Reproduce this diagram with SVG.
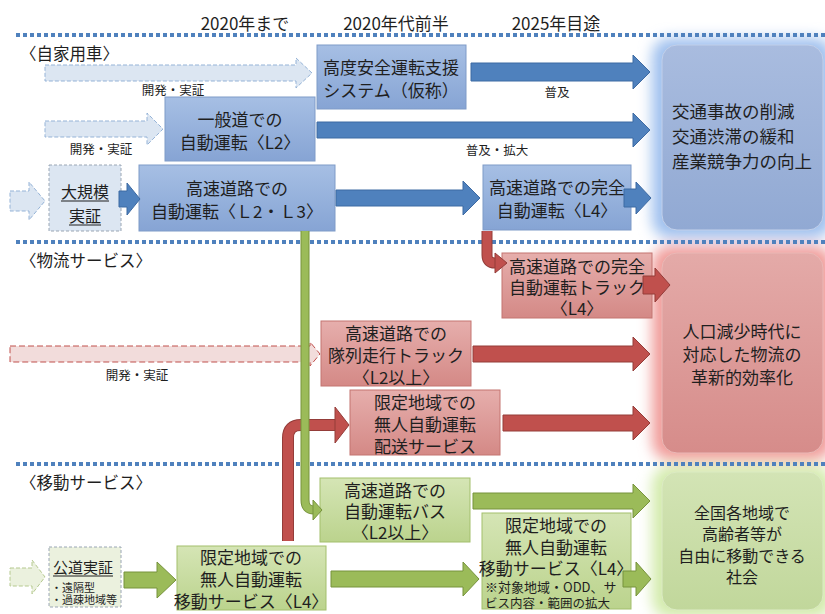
<svg xmlns="http://www.w3.org/2000/svg" width="825" height="614" viewBox="0 0 825 614">
<style>
.t{font-family:"Noto Sans CJK JP","Noto Sans",sans-serif;fill:#1f1f1f;dominant-baseline:central;text-anchor:middle;font-size:17px}
.l{text-anchor:start}
.s{font-size:12.5px}
.h{font-size:17px}
.sec{font-size:16.5px;text-anchor:start}
.nb{fill:url(#gb);stroke:#7f9bc8;stroke-width:1}
.nr{fill:url(#gr);stroke:#c47470;stroke-width:1}
.ng{fill:url(#gg);stroke:#a3bf6c;stroke-width:1}
.ab{fill:#4f81bd;stroke:#3d6aa3;stroke-width:1}
.ar{fill:#c0504d;stroke:#943c39;stroke-width:1}
.ag{fill:#9bbb59;stroke:#77933c;stroke-width:1}
.db{fill:#dce6f2;stroke:#95b3d7;stroke-width:1;stroke-dasharray:4 2}
.dr{fill:#f2dcdb;stroke:#c0504d;stroke-width:1;stroke-dasharray:6 3}
.dg{fill:#ebf1de;stroke:#b5c98f;stroke-width:1;stroke-dasharray:4 2}
.dbox{stroke:#9aa6b4;stroke-width:1;stroke-dasharray:3 2}
.sep{stroke:#4f81bd;stroke-width:4;stroke-dasharray:4 3;fill:none}
.ul{stroke:#1f1f1f;stroke-width:1}
</style>
<defs>
<linearGradient id="gb" x1="0" y1="0" x2="0" y2="1"><stop offset="0" stop-color="#a6bfe4"/><stop offset="1" stop-color="#86a4d4"/></linearGradient>
<linearGradient id="gr" x1="0" y1="0" x2="0" y2="1"><stop offset="0" stop-color="#e6aeac"/><stop offset="1" stop-color="#d48986"/></linearGradient>
<linearGradient id="gg" x1="0" y1="0" x2="0" y2="1"><stop offset="0" stop-color="#d5e5b5"/><stop offset="1" stop-color="#bbd38d"/></linearGradient>
<linearGradient id="rb" x1="0" y1="0" x2="0" y2="1"><stop offset="0" stop-color="#a9bcdf"/><stop offset="1" stop-color="#91a9d3"/></linearGradient>
<linearGradient id="rr" x1="0" y1="0" x2="0" y2="1"><stop offset="0" stop-color="#e4aaa8"/><stop offset="1" stop-color="#d68c8a"/></linearGradient>
<linearGradient id="rg" x1="0" y1="0" x2="0" y2="1"><stop offset="0" stop-color="#d3e4b5"/><stop offset="1" stop-color="#c1d79b"/></linearGradient>
<filter id="blur" x="-20%" y="-20%" width="140%" height="140%"><feGaussianBlur stdDeviation="7"/></filter>
</defs>
<rect width="825" height="614" fill="#ffffff"/>
<g id="glows" filter="url(#blur)">
<rect x="652" y="38" width="180" height="200" rx="18" fill="#9fc0ee"/>
<rect x="652" y="246" width="180" height="214" rx="18" fill="#f09c9a"/>
<rect x="652" y="466" width="180" height="152" rx="18" fill="#d3ebac"/>
</g>
<g id="separators">
<line class="sep" x1="16" y1="35" x2="825" y2="35"/>
<line class="sep" x1="16" y1="242" x2="825" y2="242"/>
<line class="sep" x1="16" y1="464" x2="825" y2="464"/>
</g>
<g id="headers">
<text class="t h" x="245" y="22">2020年まで</text>
<text class="t h" x="396" y="22">2020年代前半</text>
<text class="t h" x="556" y="22">2025年目途</text>
<text class="t sec" x="20" y="53">〈自家用車〉</text>
<text class="t sec" x="20" y="260">〈物流サービス〉</text>
<text class="t sec" x="20" y="482">〈移動サービス〉</text>
<text class="t s" x="101" y="148">開発・実証</text>
<text class="t s" x="557" y="91">普及</text>
<text class="t s" x="497" y="149">普及・拡大</text>
<text class="t s" x="137" y="374">開発・実証</text>
</g>
<g id="goal-blue">
<rect x="662" y="45" width="161" height="185" rx="15" fill="url(#rb)" stroke="#c2d0ea"/>
<text class="t l" x="672" y="110" style="font-size:17.5px">交通事故の削減</text>
<text class="t l" x="672" y="135" style="font-size:17.5px">交通渋滞の緩和</text>
<text class="t l" x="672" y="160" style="font-size:17.5px">産業競争力の向上</text>
</g>
<g id="goal-red">
<rect x="662" y="253" width="161" height="200" rx="15" fill="url(#rr)" stroke="#eab8b6"/>
<text class="t" x="742" y="330">人口減少時代に</text>
<text class="t" x="742" y="353">対応した物流の</text>
<text class="t" x="742" y="376">革新的効率化</text>
</g>
<g id="goal-green">
<rect x="662" y="472" width="161" height="138" rx="15" fill="url(#rg)" stroke="#dcebc4"/>
<text class="t" x="742" y="512" style="font-size:16px">全国各地域で</text>
<text class="t" x="742" y="533" style="font-size:16px">高齢者等が</text>
<text class="t" x="742" y="555" style="font-size:16px">自由に移動できる</text>
<text class="t" x="742" y="576" style="font-size:16px">社会</text>
</g>
<g id="node-asv">
<rect class="nb" x="317" y="45" width="149" height="64"/>
<text class="t" x="391" y="66">高度安全運転支援</text>
<text class="t" x="391" y="89">システム（仮称）</text>
</g>
<g id="node-general-l2">
<rect class="nb" x="165" y="97" width="150" height="64"/>
<text class="t" x="240" y="118">一般道での</text>
<text class="t" x="240" y="141">自動運転〈L2〉</text>
</g>
<g id="node-large-test">
<rect class="dbox" x="49" y="165" width="72" height="66" fill="#dce6f2"/>
<text class="t" x="85" y="191" style="font-size:16px">大規模</text>
<line class="ul" x1="61" y1="201" x2="109" y2="201"/>
<text class="t" x="85" y="215" style="font-size:16px">実証</text>
<line class="ul" x1="69" y1="225" x2="101" y2="225"/>
</g>
<g id="node-highway-l23">
<rect class="nb" x="139" y="165" width="196" height="66"/>
<text class="t" x="237" y="187">高速道路での</text>
<text class="t" x="237" y="210">自動運転〈Ｌ2・Ｌ3〉</text>
</g>
<g id="node-highway-l4">
<rect class="nb" x="483" y="165" width="148" height="65"/>
<text class="t" x="557" y="186">高速道路での完全</text>
<text class="t" x="557" y="209">自動運転〈L4〉</text>
</g>
<g id="node-truck-l4">
<rect class="nr" x="502" y="253" width="150" height="65"/>
<text class="t" x="577" y="265">高速道路での完全</text>
<text class="t" x="577" y="286">自動運転トラック</text>
<text class="t" x="577" y="307">〈L4〉</text>
</g>
<g id="node-platoon">
<rect class="nr" x="321" y="321" width="150" height="65"/>
<text class="t" x="396" y="332">高速道路での</text>
<text class="t" x="396" y="354">隊列走行トラック</text>
<text class="t" x="396" y="376">〈L2以上〉</text>
</g>
<g id="node-delivery">
<rect class="nr" x="350" y="390" width="150" height="65"/>
<text class="t" x="425" y="401">限定地域での</text>
<text class="t" x="425" y="423">無人自動運転</text>
<text class="t" x="425" y="445">配送サービス</text>
</g>
<g id="node-bus">
<rect class="ng" x="320" y="478" width="150" height="64"/>
<text class="t" x="395" y="489">高速道路での</text>
<text class="t" x="395" y="510">自動運転バス</text>
<text class="t" x="395" y="531">〈L2以上〉</text>
</g>
<g id="node-public-test">
<rect class="dbox" x="49" y="547" width="72" height="60" fill="#ebf1de"/>
<text class="t l" x="53" y="566" style="font-size:15px">公道実証</text>
<line class="ul" x1="53" y1="576" x2="113" y2="576"/>
<text class="t l" x="51" y="587" style="font-size:11px">・遠隔型</text>
<text class="t l" x="51" y="599" style="font-size:11px">・過疎地域等</text>
</g>
<g id="node-mobility-l4">
<rect class="ng" x="177" y="546" width="149" height="64"/>
<text class="t" x="251" y="556">限定地域での</text>
<text class="t" x="251" y="578">無人自動運転</text>
<text class="t" x="251" y="600">移動サービス〈L4〉</text>
</g>
<g id="node-mobility-l4-ext">
<rect class="ng" x="482" y="513" width="149" height="96"/>
<text class="t" x="556" y="524">限定地域での</text>
<text class="t" x="556" y="546">無人自動運転</text>
<text class="t" x="556" y="567">移動サービス〈L4〉</text>
<text class="t l" x="485" y="586" style="font-size:13px">※対象地域・ODD、サ</text>
<text class="t l s" x="485" y="602">ビス内容・範囲の拡大</text>
</g>
<g id="connectors">
<polygon class="db" points="45,65 296,65 296,58 312,73 296,88 296,81 45,81"/>
<polygon class="ab" points="471,63 633,63 633,55 650,72 633,89 633,81 471,81"/>
<polygon class="db" points="45,121 147,121 147,113 163,129 147,145 147,137 45,137"/>
<polygon class="ab" points="317,122 633,122 633,113 650,130 633,147 633,138 317,138"/>
<polygon class="db" points="10,191 29,191 29,182 45,201 29,220 29,211 10,211"/>
<polygon class="ab" points="119,191 127,191 127,183 140,199 127,215 127,207 119,207"/>
<polygon class="ab" points="336,190 463,190 463,181 480,198 463,215 463,206 336,206"/>
<polygon class="ab" points="624,189 636,189 636,182 651,198 636,214 636,207 624,207"/>
<path d="M487 231 V255 Q487 263 495 263 H497" fill="none" stroke="#943c39" stroke-width="11"/>
<path d="M487 231 V255 Q487 263 495 263 H497" fill="none" stroke="#c0504d" stroke-width="9"/>
<polygon class="ar" points="495,253 507,263 495,273"/>
<polygon class="ar" points="643,276 655,276 655,268 670,285 655,302 655,294 643,294"/>
<polygon class="dr" points="10,346 310,346 310,342 320,354 310,366 310,362 10,362"/>
<polygon class="ar" points="473,346 633,346 633,337 650,354 633,371 633,362 473,362"/>
<polygon class="ar" points="503,415 633,415 633,406 650,423 633,440 633,431 503,431"/>
<path d="M288 541 V438 Q288 425 301 425 H336" fill="none" stroke="#943c39" stroke-width="12"/>
<path d="M288 541 V438 Q288 425 301 425 H336" fill="none" stroke="#c0504d" stroke-width="10"/>
<polygon class="ar" points="335,407 349,425 335,443"/>
<path d="M305 231 V500 Q305 510 314 510" fill="none" stroke="#77933c" stroke-width="9"/>
<path d="M305 231 V500 Q305 510 314 510" fill="none" stroke="#9bbb59" stroke-width="7"/>
<polygon class="ag" points="313,500 322,510 313,520"/>
<polygon class="dg" points="10,568 32,568 32,560 45,577 32,594 32,586 10,586"/>
<polygon class="ag" points="124,572 157,572 157,562 176,580 157,598 157,588 124,588"/>
<polygon class="ag" points="331,571 463,571 463,562 479,579 463,596 463,587 331,587"/>
<polygon class="ag" points="473,493 633,493 633,484 650,501 633,518 633,509 473,509"/>
<polygon class="ag" points="623,571 636,571 636,562 651,579 636,596 636,587 623,587"/>
</g>
<g id="label-dev1">
<text class="t s" x="173" y="89">開発・実証</text>
</g>
</svg>
